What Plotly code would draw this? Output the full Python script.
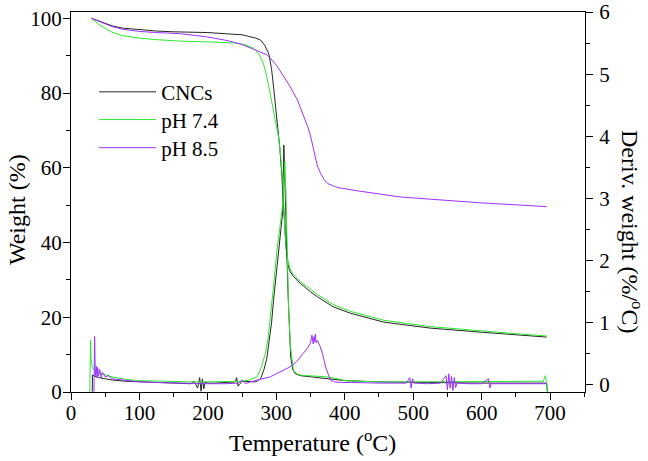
import plotly.graph_objects as go

# ---------------- data ----------------
# TGA weight curves (left axis, %)
T_cnc_w = [30, 40, 50, 60, 75, 100, 125, 150, 200, 250, 260, 270, 277, 283, 289, 293, 296, 299,
           302, 305, 308, 311, 314, 317, 320, 325, 335, 350, 360, 383, 408, 457, 525, 600, 650, 695]
W_cnc = [100, 99.3, 98.6, 98.0, 97.4, 96.9, 96.6, 96.4, 96.2, 95.6, 95.2, 94.7, 94.2, 92.8, 90.5,
         86.5, 81.6, 76.5, 71.0, 65.5, 58.0, 47.0, 39.0, 34.0, 32.3, 30.9, 29.1, 26.8, 25.5, 22.8,
         21.1, 18.7, 17.1, 16.0, 15.3, 14.7]

T_p74_w = [30, 35, 40, 50, 60, 75, 90, 100, 125, 160, 200, 240, 255, 267, 275, 281, 286, 291, 295,
           299, 303, 306, 309, 311, 313, 316, 320, 325, 335, 360, 383, 408, 457, 525, 600, 650, 695]
W_p74 = [100, 99.2, 98.5, 97.3, 96.3, 95.4, 94.9, 94.7, 94.3, 93.9, 93.7, 93.4, 92.9, 92.0, 90.3,
         88.0, 84.5, 80.0, 76.5, 72.8, 68.5, 64.0, 57.0, 49.0, 42.0, 36.0, 33.0, 31.4, 29.6, 26.1,
         23.4, 21.6, 19.2, 17.5, 16.3, 15.6, 15.0]

T_p85_w = [30, 40, 50, 60, 75, 100, 125, 160, 200, 230, 250, 270, 287, 300, 311, 320, 331, 340,
           346, 350, 355, 360, 365, 370, 375, 385, 393, 420, 481, 550, 600, 650, 695]
W_p85 = [100, 99.2, 98.4, 97.8, 97.1, 96.5, 96.2, 95.9, 95.0, 94.0, 93.0, 91.6, 90.2, 87.5, 84.3,
         81.8, 78.1, 74.0, 70.9, 68.5, 64.0, 60.5, 58.4, 56.8, 55.8, 55.0, 54.6, 53.8, 52.2, 51.2,
         50.6, 50.1, 49.6]

# DTG curves (right axis, %/°C)
T_cnc_d = [31, 31.5, 35, 40, 50, 60, 80, 100, 120, 140, 160, 175, 180, 185, 188, 190, 192, 194, 196,
           200, 210, 230, 240, 242, 244, 250, 260, 270, 277, 282, 286, 290, 293, 296, 300, 303, 306,
           309, 310, 311, 312, 313, 315, 317, 319, 321, 324, 328, 335, 350, 370, 400, 450, 500, 550,
           600, 650, 695, 696]
D_cnc = [-0.11, 0.16, 0.14, 0.12, 0.10, 0.08, 0.06, 0.05, 0.04, 0.03, 0.03, 0.02, 0.06, -0.05, 0.12,
         -0.10, 0.10, -0.06, 0.05, 0.03, 0.03, 0.04, 0.05, 0.12, -0.02, 0.06, 0.06, 0.05, 0.10, 0.25,
         0.42, 0.75, 1.00, 1.37, 1.80, 2.17, 2.45, 2.75, 3.20, 3.86, 3.50, 3.20, 2.30, 1.50, 0.80,
         0.45, 0.25, 0.18, 0.15, 0.13, 0.10, 0.07, 0.05, 0.04, 0.04, 0.03, 0.03, 0.03, -0.11]

T_p74_d = [27.5, 28.6, 29.5, 31, 33, 36, 40, 45, 50, 60, 70, 80, 100, 125, 150, 175, 200, 225, 250,
           260, 265, 272, 278, 284, 288, 291, 296, 301, 306, 309, 311, 312.5, 314, 316, 318, 320.6,
           323, 325, 330, 335, 345, 360, 375, 390, 400, 420, 450, 500, 550, 600, 650, 690, 693, 695,
           696]
D_p74 = [-0.11, 0.72, 0.40, 0.30, 0.25, 0.22, 0.20, 0.18, 0.16, 0.13, 0.11, 0.09, 0.07, 0.06, 0.05,
         0.05, 0.05, 0.05, 0.06, 0.08, 0.10, 0.13, 0.28, 0.51, 0.75, 1.05, 1.60, 2.17, 2.60, 2.87,
         3.30, 3.60, 3.10, 1.90, 1.20, 0.62, 0.35, 0.24, 0.18, 0.16, 0.15, 0.14, 0.13, 0.10, 0.07,
         0.06, 0.05, 0.05, 0.05, 0.05, 0.05, 0.06, 0.15, 0.05, -0.11]

T_p85_d = [33.5, 34.5, 35.5, 37, 38, 39, 40, 42, 44, 46, 50, 55, 60, 70, 80, 100, 125, 150, 175, 200,
           225, 245, 250, 255, 262, 270, 280, 291, 300, 310, 320, 330, 340, 346, 350, 352, 354, 355,
           356, 357, 358, 360, 364, 368, 372, 376, 379, 385, 395, 410, 430, 450, 470, 490, 495, 497,
           499, 501, 520, 540, 548, 550, 552, 554, 556, 558, 560, 562, 564, 580, 600, 610, 612, 614,
           620, 640, 660, 680, 695]
D_p85 = [-0.11, 0.78, 0.15, 0.30, 0.12, 0.28, 0.14, 0.25, 0.12, 0.20, 0.13, 0.15, 0.10, 0.09, 0.07,
         0.05, 0.04, 0.03, 0.02, 0.02, 0.02, 0.03, 0.08, 0.02, 0.05, 0.07, 0.10, 0.13, 0.18, 0.23,
         0.29, 0.38, 0.51, 0.60, 0.68, 0.80, 0.66, 0.78, 0.70, 0.82, 0.68, 0.72, 0.62, 0.48, 0.29,
         0.15, 0.08, 0.05, 0.04, 0.04, 0.03, 0.03, 0.03, 0.03, 0.12, -0.05, 0.10, 0.03, 0.02, 0.03,
         0.15, -0.08, 0.18, -0.05, 0.14, -0.09, 0.12, -0.04, 0.03, 0.02, 0.02, 0.10, -0.05, 0.02,
         0.02, 0.02, 0.02, 0.02, 0.02]

series_names = ["CNCs", "pH 7.4", "pH 8.5"]
colors = ["#262626", "#2ee82e", "#9933ff"]

# ---------------- figure ----------------
FONT = "Liberation Serif"
fig = go.Figure()

weights = [(T_cnc_w, W_cnc), (T_p74_w, W_p74), (T_p85_w, W_p85)]
derivs = [(T_cnc_d, D_cnc), (T_p74_d, D_p74), (T_p85_d, D_p85)]
legend_ids = ["legend", "legend2", "legend3"]

for (t, w), name, c, lg in zip(weights, series_names, colors, legend_ids):
    fig.add_trace(go.Scatter(x=t, y=w, mode="lines", name=name, legend=lg,
                             line=dict(color=c, width=1), yaxis="y"))
for (t, d), name, c in zip(derivs, series_names, colors):
    fig.add_trace(go.Scatter(x=t, y=d, mode="lines", name=name, showlegend=False,
                             line=dict(color=c, width=1), yaxis="y2"))

axis_common = dict(showgrid=False, zeroline=False, showline=True, linecolor="black",
                   linewidth=1.3, ticks="outside", ticklen=7, tickwidth=1.3, tickcolor="black",
                   automargin=False, ticklabeloverflow="allow",
                   tickfont=dict(family=FONT, size=21, color="black"))
minor_common = dict(ticks="outside", ticklen=4, tickcolor="black", tickwidth=1.2)


def legend_box(ypos):
    return dict(x=0.045, y=ypos, xanchor="left", yanchor="middle", bgcolor="rgba(0,0,0,0)",
                font=dict(family=FONT, size=21, color="black"), itemwidth=57)


fig.update_layout(
    width=648, height=461,
    margin=dict(l=71, r=63, t=12, b=69, autoexpand=False),
    paper_bgcolor="white", plot_bgcolor="white",
    font=dict(family=FONT, color="black"),
    xaxis=dict(range=[0, 751], dtick=100, tick0=0, mirror=True, ticklabelstandoff=-5,
               minor=dict(dtick=50, **minor_common), **axis_common),
    yaxis=dict(range=[0, 101.7], dtick=20, tick0=0, ticklabelstandoff=-3,
               minor=dict(dtick=10, **minor_common), **axis_common),
    yaxis2=dict(range=[-0.113, 6.0], dtick=1, tick0=0, overlaying="y", side="right",
                ticklabelstandoff=2,
                minor=dict(dtick=0.5, **minor_common), **axis_common),
    legend=legend_box(0.789),
    legend2=legend_box(0.716),
    legend3=legend_box(0.642),
    annotations=[
        dict(text="Temperature (<sup>o</sup>C)", xref="paper", yref="paper",
             x=0.469, y=-0.129, xanchor="center", yanchor="middle", showarrow=False,
             font=dict(family=FONT, size=24, color="black")),
        dict(text="Weight (%)", textangle=-90, xref="paper", yref="paper",
             x=-0.105, y=0.479, xanchor="center", yanchor="middle", showarrow=False,
             font=dict(family=FONT, size=24, color="black")),
        dict(text="Deriv. weight (%/<sup>o</sup>C)", textangle=90, xref="paper", yref="paper",
             x=1.0914, y=0.421, xanchor="center", yanchor="middle", showarrow=False,
             font=dict(family=FONT, size=24, color="black")),
    ],
)

# remove the default page margin so the figure sits at the window's top-left corner
fig.write_html("out.html", config={"displayModeBar": False},
               post_script="document.body.style.margin='0px';")
